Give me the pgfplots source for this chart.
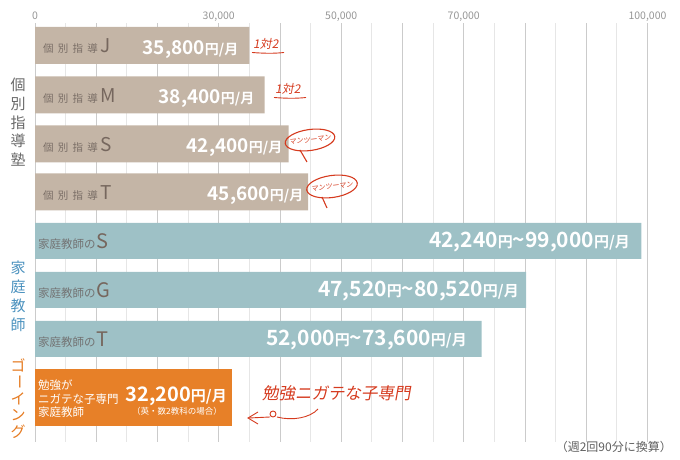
\documentclass[border=0pt]{standalone}
\usepackage{pgfplots}
\pgfplotsset{compat=1.18}
\usetikzlibrary{arrows.meta}
\usepackage{fontspec}
\setmainfont{Noto Sans CJK JP}[BoldFont={Noto Sans CJK JP Bold}]
\newfontfamily\hand{Noto Sans CJK JP}[FakeSlant=0.18]
\definecolor{jukubar}{RGB}{196,181,166}
\definecolor{kateibar}{RGB}{158,193,198}
\definecolor{goingbar}{RGB}{231,128,40}
\definecolor{jtext}{RGB}{122,110,102}
\definecolor{jletter}{RGB}{118,103,94}
\definecolor{ftext}{RGB}{115,115,115}
\definecolor{grayhead}{RGB}{105,105,105}
\definecolor{bluehead}{RGB}{74,145,190}
\definecolor{orangehead}{RGB}{229,122,32}
\definecolor{annot}{RGB}{213,58,30}
\definecolor{gridd}{RGB}{203,203,203}
\definecolor{gridl}{RGB}{230,230,230}
\definecolor{tickc}{RGB}{150,150,150}
\definecolor{notec}{RGB}{95,95,95}
\newcommand\fs[1]{\fontsize{#1}{#1}\selectfont}
\newcommand\jlab[1]{{\color{jtext}\fs{10.5}\addfontfeature{LetterSpace=40}個別指導}\hspace{3pt}{\color{jletter}\fs{19}#1}}
\newcommand\jval[1]{{\bfseries\fs{19}#1\fs{14}円/月}}
\newcommand\flab[1]{{\color{ftext}\fs{11.5}家庭教師の}\hspace{1pt}{\color{jletter}\fs{20}#1}}
\newcommand\fval[2]{{\bfseries\fs{21}#1\fs{15}円\fs{21}\textasciitilde#2\fs{15}円/月}}
\begin{document}
\begin{tikzpicture}[x=1pt,y=1pt]
\path[use as bounding box] (0,0) rectangle (680,460);
\begin{axis}[
  at={(35pt,18pt)}, anchor=south west,
  width=612.5pt, height=419pt, scale only axis,
  xmin=0, xmax=100000, ymin=18, ymax=437,
  axis line style={draw=none},
  xtick={0,30000,50000,70000,100000},
  xticklabels={0,{30,000},{50,000},{70,000},{100,000}},
  xticklabel pos=upper,
  xticklabel style={font=\fs{10.5}, text=tickc, inner sep=0pt, anchor=base},
  xticklabel shift=3pt,
  ytick=\empty,
  major tick length=0pt, minor tick length=0pt,
  xmajorgrids, major grid style={color=gridd, line width=1pt},
  minor xtick={5000,15000,...,95000},
  xminorgrids, minor grid style={color=gridl, line width=1pt},
  extra x ticks={10000,20000,40000,60000,80000,90000},
  extra x tick labels={},
  extra x tick style={grid=major},
  scaled x ticks=false,
  xbar, clip=false,
]
\addplot[xbar, bar shift=0pt, bar width=37, fill=jukubar, draw=none]
  coordinates {(35000,414.5) (37500,365) (41400,316) (44600,268)};
\addplot[xbar, bar shift=0pt, bar width=36, fill=kateibar, draw=none]
  coordinates {(99000,219) (80200,170) (72900,121)};
\addplot[xbar, bar shift=0pt, bar width=57, fill=goingbar, draw=none]
  coordinates {(32200,62.5)};
\end{axis}
% bar labels
\node[anchor=base west, inner sep=0pt] at (43,407) {\jlab{J}};
\node[anchor=base west, inner sep=0pt] at (43,357.5) {\jlab{M}};
\node[anchor=base west, inner sep=0pt] at (43,308.5) {\jlab{S}};
\node[anchor=base west, inner sep=0pt] at (43,260.5) {\jlab{T}};
\node[anchor=base east, inner sep=0pt, text=white] at (238.5,405.5) {\jval{35,800}};
\node[anchor=base east, inner sep=0pt, text=white] at (254.5,356) {\jval{38,400}};
\node[anchor=base east, inner sep=0pt, text=white] at (282.5,307) {\jval{42,400}};
\node[anchor=base east, inner sep=0pt, text=white] at (303.5,259) {\jval{45,600}};
\node[anchor=base west, inner sep=0pt] at (38,211) {\flab{S}};
\node[anchor=base west, inner sep=0pt] at (38,162) {\flab{G}};
\node[anchor=base west, inner sep=0pt] at (38,113) {\flab{T}};
\node[anchor=base east, inner sep=0pt, text=white] at (630,212) {\fval{42,240}{99,000}};
\node[anchor=base east, inner sep=0pt, text=white] at (519,163) {\fval{47,520}{80,520}};
\node[anchor=base east, inner sep=0pt, text=white] at (467,114) {\fval{52,000}{73,600}};
% going bar
\node[anchor=base west, inner sep=0pt, text=white, font=\fs{11.5}] at (38,70) {勉強が};
\node[anchor=base west, inner sep=0pt, text=white, font=\fs{11.5}] at (38,56.5) {ニガテな子専門};
\node[anchor=base west, inner sep=0pt, text=white, font=\fs{11.5}] at (38,43.5) {家庭教師};
\node[anchor=base east, inner sep=0pt, text=white] at (227,58.5) {{\bfseries\fs{20}32,200\fs{15}円/月}};
\node[anchor=base, inner sep=0pt, text=white, font=\fs{8.5}] at (177,45) {（英・数2教科の場合）};
% group headings
\foreach \c/\yy in {個/375,別/356.25,指/337.5,導/318.75,塾/300}
  \node[text=grayhead, font=\fs{15}, inner sep=0pt] at (18,\yy) {\c};
\foreach \c/\yy in {家/192,庭/173,教/154,師/135}
  \node[text=bluehead, font=\fs{15}, inner sep=0pt] at (18,\yy) {\c};
\foreach \c/\yy in {ゴ/95,イ/61.5,ン/44.75,グ/28}
  \node[text=orangehead, font=\fs{15}, inner sep=0pt] at (18,\yy) {\c};
\node[text=orangehead, font=\fs{15}, inner sep=0pt, rotate=-90] at (18,78.25) {ー};
% annotations
\node[anchor=base west, inner sep=0pt, text=annot, font=\hand\fs{12}] at (253,411) {1対2};
\draw[annot, line width=0.9pt] (252,407.5) .. controls (265,406.5) and (275,406.5) .. (284,407.5);
\node[anchor=base west, inner sep=0pt, text=annot, font=\hand\fs{12}] at (275,366) {1対2};
\draw[annot, line width=0.9pt] (274,362.5) .. controls (287,361.5) and (297,361.5) .. (306,362.5);
\draw[annot, line width=1.1pt] (310,320) ellipse [x radius=25, y radius=10.5, rotate=8];
\draw[annot, line width=1.1pt] (300,310) -- (307,298);
\node[text=annot, font=\hand\fs{7}, inner sep=0pt, rotate=6] at (310,320) {マンツーマン};
\draw[annot, line width=1.1pt] (332,273.5) ellipse [x radius=25.5, y radius=11, rotate=8];
\draw[annot, line width=1.1pt] (322,263) -- (327,252);
\node[text=annot, font=\hand\fs{7}, inner sep=0pt, rotate=6] at (332,273.5) {マンツーマン};
\node[anchor=base west, inner sep=0pt, text=annot, font=\hand\fs{16.5}] at (262,60) {勉強ニガテな子専門};
\draw[annot, line width=0.9pt] (318,51) .. controls (310,42) and (292,39) .. (277,43);
\draw[annot, line width=0.9pt] (273,46) circle [radius=3];
\draw[annot, line width=0.9pt] (270,43) -- (249,42);
\draw[annot, line width=0.9pt] (258,48) -- (248,42) -- (258,36);
% note
\node[anchor=east, inner sep=0pt, text=notec, font=\fs{12}] at (672,13) {（週2回90分に換算）};
\end{tikzpicture}
\end{document}
